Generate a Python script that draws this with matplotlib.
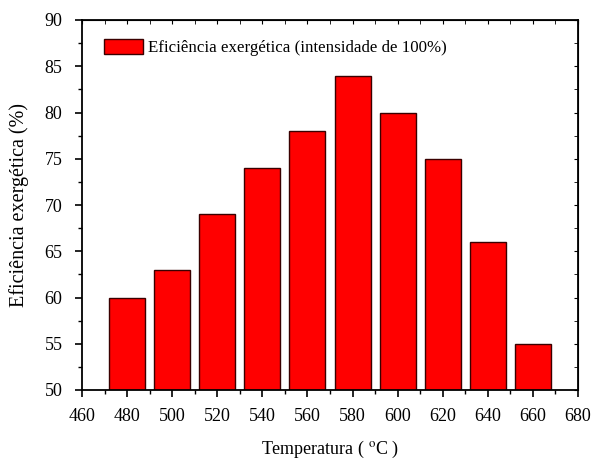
import numpy as np
import matplotlib.pyplot as plt
from matplotlib.ticker import MultipleLocator

plt.rcParams['font.family'] = ['Liberation Serif', 'DejaVu Serif']
plt.rcParams['mathtext.fontset'] = 'stix'

temperatura = [480, 500, 520, 540, 560, 580, 600, 620, 640, 660]
eficiencia = [60, 63, 69, 74, 78, 84, 80, 75, 66, 55]

fig = plt.figure(figsize=(5.93, 4.62), dpi=100)
ax = fig.add_axes([82 / 593, 1 - 390 / 462, 496 / 593, 370 / 462])

ax.bar(temperatura, eficiencia, width=16, color='#ff0000', edgecolor='#3a0000',
       linewidth=1.0, label='Eficiência exergética (intensidade de 100%)', zorder=2)

ax.set_xlim(460, 680)
ax.set_ylim(50, 90)
ax.xaxis.set_major_locator(MultipleLocator(20))
ax.xaxis.set_minor_locator(MultipleLocator(10))
ax.yaxis.set_major_locator(MultipleLocator(5))
ax.yaxis.set_minor_locator(MultipleLocator(2.5))
ax.tick_params(which='major', direction='out', length=5, width=1.2, labelsize=13)
ax.tick_params(axis='x', which='major', pad=8)
ax.tick_params(axis='y', which='major', pad=9)
ax.tick_params(which='minor', direction='out', length=3, width=1.0)
for s in ax.spines.values():
    s.set_linewidth(1.3)

# inward ticks on top and right
ax2 = ax.secondary_xaxis('top')
ax2.xaxis.set_major_locator(MultipleLocator(20))
ax2.xaxis.set_minor_locator(MultipleLocator(10))
ax2.tick_params(which='both', direction='in', length=3, labeltop=False)
ax3 = ax.secondary_yaxis('right')
ax3.yaxis.set_major_locator(MultipleLocator(5))
ax3.yaxis.set_minor_locator(MultipleLocator(2.5))
ax3.tick_params(which='both', direction='in', length=3, labelright=False)

ax.set_xlabel('Temperatura ( $^{\\mathrm{o}}$C )', fontsize=13, labelpad=10)
ax.set_ylabel('Eficiência exergética (%)', fontsize=14.5, labelpad=11)

ax.legend(loc='upper left', frameon=False, fontsize=12.2, handlelength=2.3,
          handleheight=1.0, handletextpad=0.3, borderaxespad=0.5,
          bbox_to_anchor=(0.013, 0.99))

fig.savefig('out.png', dpi=100)
